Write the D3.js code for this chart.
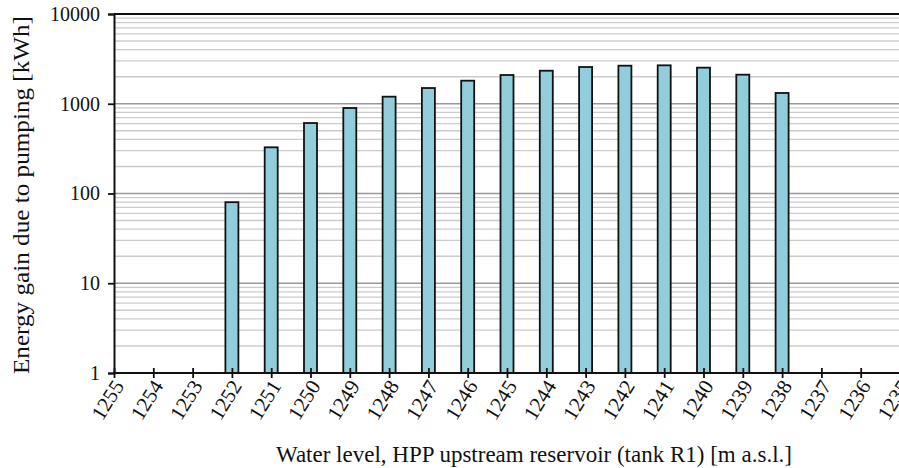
<!DOCTYPE html>
<html>
<head>
<meta charset="utf-8">
<script src="https://cdn.jsdelivr.net/npm/d3@7"></script>
<style>
  body { margin: 0; background: #fff; }
  svg { display: block; }
</style>
</head>
<body>
<svg id="chart" width="899" height="468"></svg>
<script>
// water levels along the x axis (m a.s.l.)
const levels = [1255, 1254, 1253, 1252, 1251, 1250, 1249, 1248, 1247, 1246, 1245,
                1244, 1243, 1242, 1241, 1240, 1239, 1238, 1237, 1236, 1235];
// energy gain per level (kWh), null where there is no bar
const energy = [null, null, null, 80, 327, 610, 897, 1199, 1497, 1807, 2090,
                2334, 2567, 2655, 2680, 2524, 2108, 1318, null, null, null];
const yTicks = [1, 10, 100, 1000, 10000];

const font = "Liberation Serif, Times New Roman, serif";
const svg = d3.select("#chart");
const mLeft = 114, mTop = 14, mBottom = 373, mRight = 900;

const x = d3.scalePoint().domain(levels).range([mLeft, mRight]);
const y = d3.scaleLog().domain([1, 10000]).range([mBottom, mTop]);

// gridlines, minor first then decades
const minor = [];
for (let d = 1; d < 10000; d *= 10)
    for (let k = 2; k <= 9; k++) minor.push(d * k);

svg.append("g").selectAll("line")
    .data(minor)
    .enter().append("line")
    .attr("x1", mLeft).attr("x2", 899)
    .attr("y1", d => y(d)).attr("y2", d => y(d))
    .attr("stroke", "#cccccc").attr("stroke-width", 1.3);

svg.append("g").selectAll("line")
    .data(yTicks.slice(1, 4))
    .enter().append("line")
    .attr("x1", mLeft).attr("x2", 899)
    .attr("y1", d => y(d)).attr("y2", d => y(d))
    .attr("stroke", "#9a9a9a").attr("stroke-width", 1.5);

// top border
svg.append("line")
    .attr("x1", mLeft).attr("x2", 899)
    .attr("y1", y(10000)).attr("y2", y(10000))
    .attr("stroke", "#111").attr("stroke-width", 2);

// bars
const barW = 13;
const rows = levels.map((l, i) => ({level: l, value: energy[i]})).filter(d => d.value != null);
svg.append("g").selectAll("rect")
    .data(rows)
    .enter().append("rect")
    .attr("x", d => x(d.level) - barW / 2)
    .attr("y", d => y(d.value))
    .attr("width", barW)
    .attr("height", d => y(1) - y(d.value))
    .attr("fill", "#92cddc")
    .attr("stroke", "#111")
    .attr("stroke-width", 1.8);

// y axis
const yAxis = svg.append("g")
    .attr("transform", `translate(${mLeft},0)`)
    .call(d3.axisLeft(y).tickValues(yTicks).tickFormat(d3.format("d")).tickSize(6).tickPadding(8))
    .attr("font-family", font).attr("font-size", 20);
yAxis.select(".domain").attr("stroke", "#111").attr("stroke-width", 2);
yAxis.selectAll(".tick line").attr("stroke", "#111").attr("stroke-width", 1.8);
yAxis.selectAll(".tick text").attr("fill", "#111");

// x axis
const xAxis = svg.append("g")
    .attr("transform", `translate(0,${mBottom})`)
    .call(d3.axisBottom(x).tickSizeInner(5).tickSizeOuter(0).tickPadding(6))
    .attr("font-family", font).attr("font-size", 21);
xAxis.select(".domain").attr("stroke", "#111").attr("stroke-width", 2)
    .attr("d", `M${mLeft},0H899`);
xAxis.selectAll(".tick line").attr("stroke", "#111").attr("stroke-width", 1.8)
    .attr("y1", -5);
xAxis.selectAll(".tick text")
    .attr("fill", "#111")
    .attr("text-anchor", "end")
    .attr("dy", "0.35em")
    .attr("transform", "translate(4,9) rotate(-58)")
    .attr("x", 0).attr("y", 0);

// axis titles
svg.append("text")
    .attr("x", 534).attr("y", 462)
    .attr("text-anchor", "middle")
    .attr("font-family", font).attr("font-size", 23).attr("fill", "#111")
    .text("Water level, HPP upstream reservoir (tank R1) [m a.s.l.]");

svg.append("text")
    .attr("transform", "translate(29,195) rotate(-90)")
    .attr("text-anchor", "middle")
    .attr("font-family", font).attr("font-size", 23).attr("fill", "#111")
    .attr("textLength", 358).attr("lengthAdjust", "spacingAndGlyphs")
    .text("Energy gain due to pumping [kWh]");
</script>
</body>
</html>
